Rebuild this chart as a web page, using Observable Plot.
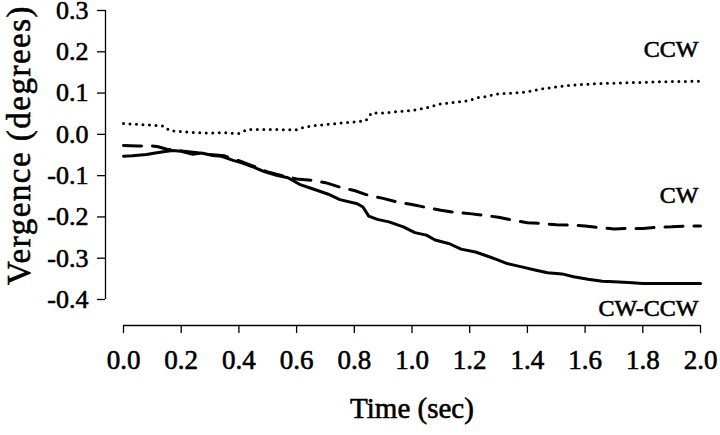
<!DOCTYPE html>
<html><head><meta charset="utf-8">
<script src="https://cdn.jsdelivr.net/npm/d3@7"></script>
<script src="https://cdn.jsdelivr.net/npm/@observablehq/plot@0.6"></script>
<style>
html,body{margin:0;padding:0;background:#fff;}
svg text{font-family:"Liberation Serif","Times New Roman",serif; stroke:#000; stroke-width:0.6px;}
svg g.ytitle text{letter-spacing:1.5px;}
</style></head><body><div id="chart"></div>
<script>
const xTicks = [0, 0.2, 0.4, 0.6, 0.8, 1.0, 1.2, 1.4, 1.6, 1.8, 2.0];
const yTicks = [-0.4, -0.3, -0.2, -0.1, 0.0, 0.1, 0.2, 0.3];
const xDomain = [0, 2];
const yDomain = [-0.4, 0.3];
const xTitle = "Time (sec)";
const yTitle = "Vergence (degrees)";
const seriesNames = ["CCW", "CW", "CW-CCW"];

const ccwT = [0, 0.05, 0.1, 0.14, 0.16, 0.2, 0.25, 0.3, 0.35, 0.4, 0.43, 0.5, 0.6, 0.63, 0.65, 0.7, 0.75, 0.8, 0.84, 0.86, 0.9, 0.95, 1.0, 1.05, 1.1, 1.15, 1.2, 1.22, 1.25, 1.3, 1.35, 1.4, 1.45, 1.5, 1.55, 1.6, 1.65, 1.7, 1.75, 1.8, 1.85, 1.9, 1.95, 2.0];
const ccwV = [0.026, 0.024, 0.022, 0.020, 0.009, 0.007, 0.004, 0.003, 0.004, 0.002, 0.012, 0.012, 0.011, 0.018, 0.020, 0.024, 0.027, 0.030, 0.033, 0.052, 0.052, 0.055, 0.058, 0.064, 0.074, 0.078, 0.082, 0.088, 0.091, 0.098, 0.100, 0.103, 0.110, 0.115, 0.119, 0.121, 0.123, 0.124, 0.125, 0.126, 0.127, 0.128, 0.128, 0.129];

const cwT = [0, 0.05, 0.1, 0.12, 0.15, 0.2, 0.25, 0.3, 0.35, 0.4, 0.45, 0.5, 0.55, 0.6, 0.65, 0.7, 0.75, 0.8, 0.85, 0.9, 0.95, 1.0, 1.05, 1.1, 1.15, 1.2, 1.25, 1.3, 1.35, 1.4, 1.45, 1.5, 1.55, 1.6, 1.65, 1.7, 1.75, 1.8, 1.85, 1.9, 1.95, 2.0];
const cwV = [-0.027, -0.028, -0.028, -0.030, -0.036, -0.040, -0.044, -0.049, -0.052, -0.064, -0.077, -0.091, -0.100, -0.108, -0.111, -0.117, -0.128, -0.136, -0.148, -0.155, -0.164, -0.170, -0.177, -0.184, -0.189, -0.192, -0.196, -0.201, -0.208, -0.214, -0.216, -0.219, -0.220, -0.222, -0.226, -0.229, -0.228, -0.228, -0.225, -0.224, -0.222, -0.222];

const diffT = [0, 0.03, 0.08, 0.11, 0.15, 0.17, 0.2, 0.24, 0.27, 0.31, 0.34, 0.38, 0.41, 0.45, 0.49, 0.53, 0.57, 0.61, 0.66, 0.71, 0.75, 0.81, 0.83, 0.85, 0.88, 0.92, 0.97, 1.01, 1.05, 1.08, 1.13, 1.17, 1.22, 1.27, 1.29, 1.33, 1.38, 1.43, 1.47, 1.52, 1.56, 1.61, 1.66, 1.7, 1.75, 1.8, 1.86, 1.93, 2.0];
const diffV = [-0.053, -0.052, -0.049, -0.045, -0.041, -0.039, -0.041, -0.048, -0.045, -0.051, -0.053, -0.063, -0.069, -0.079, -0.091, -0.099, -0.105, -0.121, -0.133, -0.145, -0.158, -0.168, -0.176, -0.198, -0.206, -0.212, -0.224, -0.238, -0.244, -0.256, -0.265, -0.278, -0.285, -0.297, -0.302, -0.313, -0.321, -0.329, -0.335, -0.338, -0.345, -0.351, -0.356, -0.357, -0.359, -0.361, -0.361, -0.361, -0.361];

const toRows = (T, V) => T.map((t, i) => ({t, v: V[i]}));
const ccw = toRows(ccwT, ccwV), cw = toRows(cwT, cwV), diff = toRows(diffT, diffV);
const endOf = (rows, name) => [{...rows[rows.length - 1], name}];
const fmt = d => d.toFixed(1);

const chart = Plot.plot({
  width: 720, height: 435,
  marginLeft: 123, marginRight: 20, marginTop: 10, marginBottom: 136,
  style: {background: "#fff", color: "#000", fontFamily: "'Liberation Serif', 'Times New Roman', serif"},
  x: {domain: xDomain},
  y: {domain: yDomain},
  marks: [
    Plot.ruleX(xDomain.slice(0, 1), {y1: yDomain[0], y2: yDomain[1], dx: -18, stroke: "#000", strokeWidth: 1.3}),
    Plot.ruleY(yDomain.slice(0, 1), {x1: xDomain[0], x2: xDomain[1], dy: 26, stroke: "#000", strokeWidth: 1.3}),
    Plot.axisY(yTicks, {tickSize: 8, dx: -18, tickPadding: 9, fontSize: 26, tickFormat: fmt, label: null, strokeWidth: 1.3}),
    Plot.axisX(xTicks, {tickSize: 8, dy: 26, tickPadding: 16, fontSize: 27, tickFormat: fmt, label: null, strokeWidth: 1.3}),
    Plot.text([xTitle], {frameAnchor: "bottom", dy: 109, lineAnchor: "middle", fontSize: 29}),
    Plot.text([yTitle], {frameAnchor: "left", textAnchor: "middle", rotate: -90, dx: -104, dy: -10, lineAnchor: "middle", fontSize: 33, className: "ytitle"}),
    Plot.line(ccw, {x: "t", y: "v", stroke: "#000", strokeWidth: 3, strokeDasharray: "0 6.5", strokeLinecap: "round"}),
    Plot.line(cw, {x: "t", y: "v", stroke: "#000", strokeWidth: 3, strokeDasharray: "18 11"}),
    Plot.line(diff, {x: "t", y: "v", stroke: "#000", strokeWidth: 3}),
    Plot.text(endOf(ccw, seriesNames[0]), {x: "t", y: "v", text: "name", textAnchor: "end", dx: -2, dy: -32, fontSize: 24}),
    Plot.text(endOf(cw, seriesNames[1]), {x: "t", y: "v", text: "name", textAnchor: "end", dx: -2, dy: -31, fontSize: 24}),
    Plot.text(endOf(diff, seriesNames[2]), {x: "t", y: "v", text: "name", textAnchor: "end", dx: -2, dy: 25, fontSize: 24})
  ]
});
document.getElementById("chart").append(chart);
</script></body></html>
